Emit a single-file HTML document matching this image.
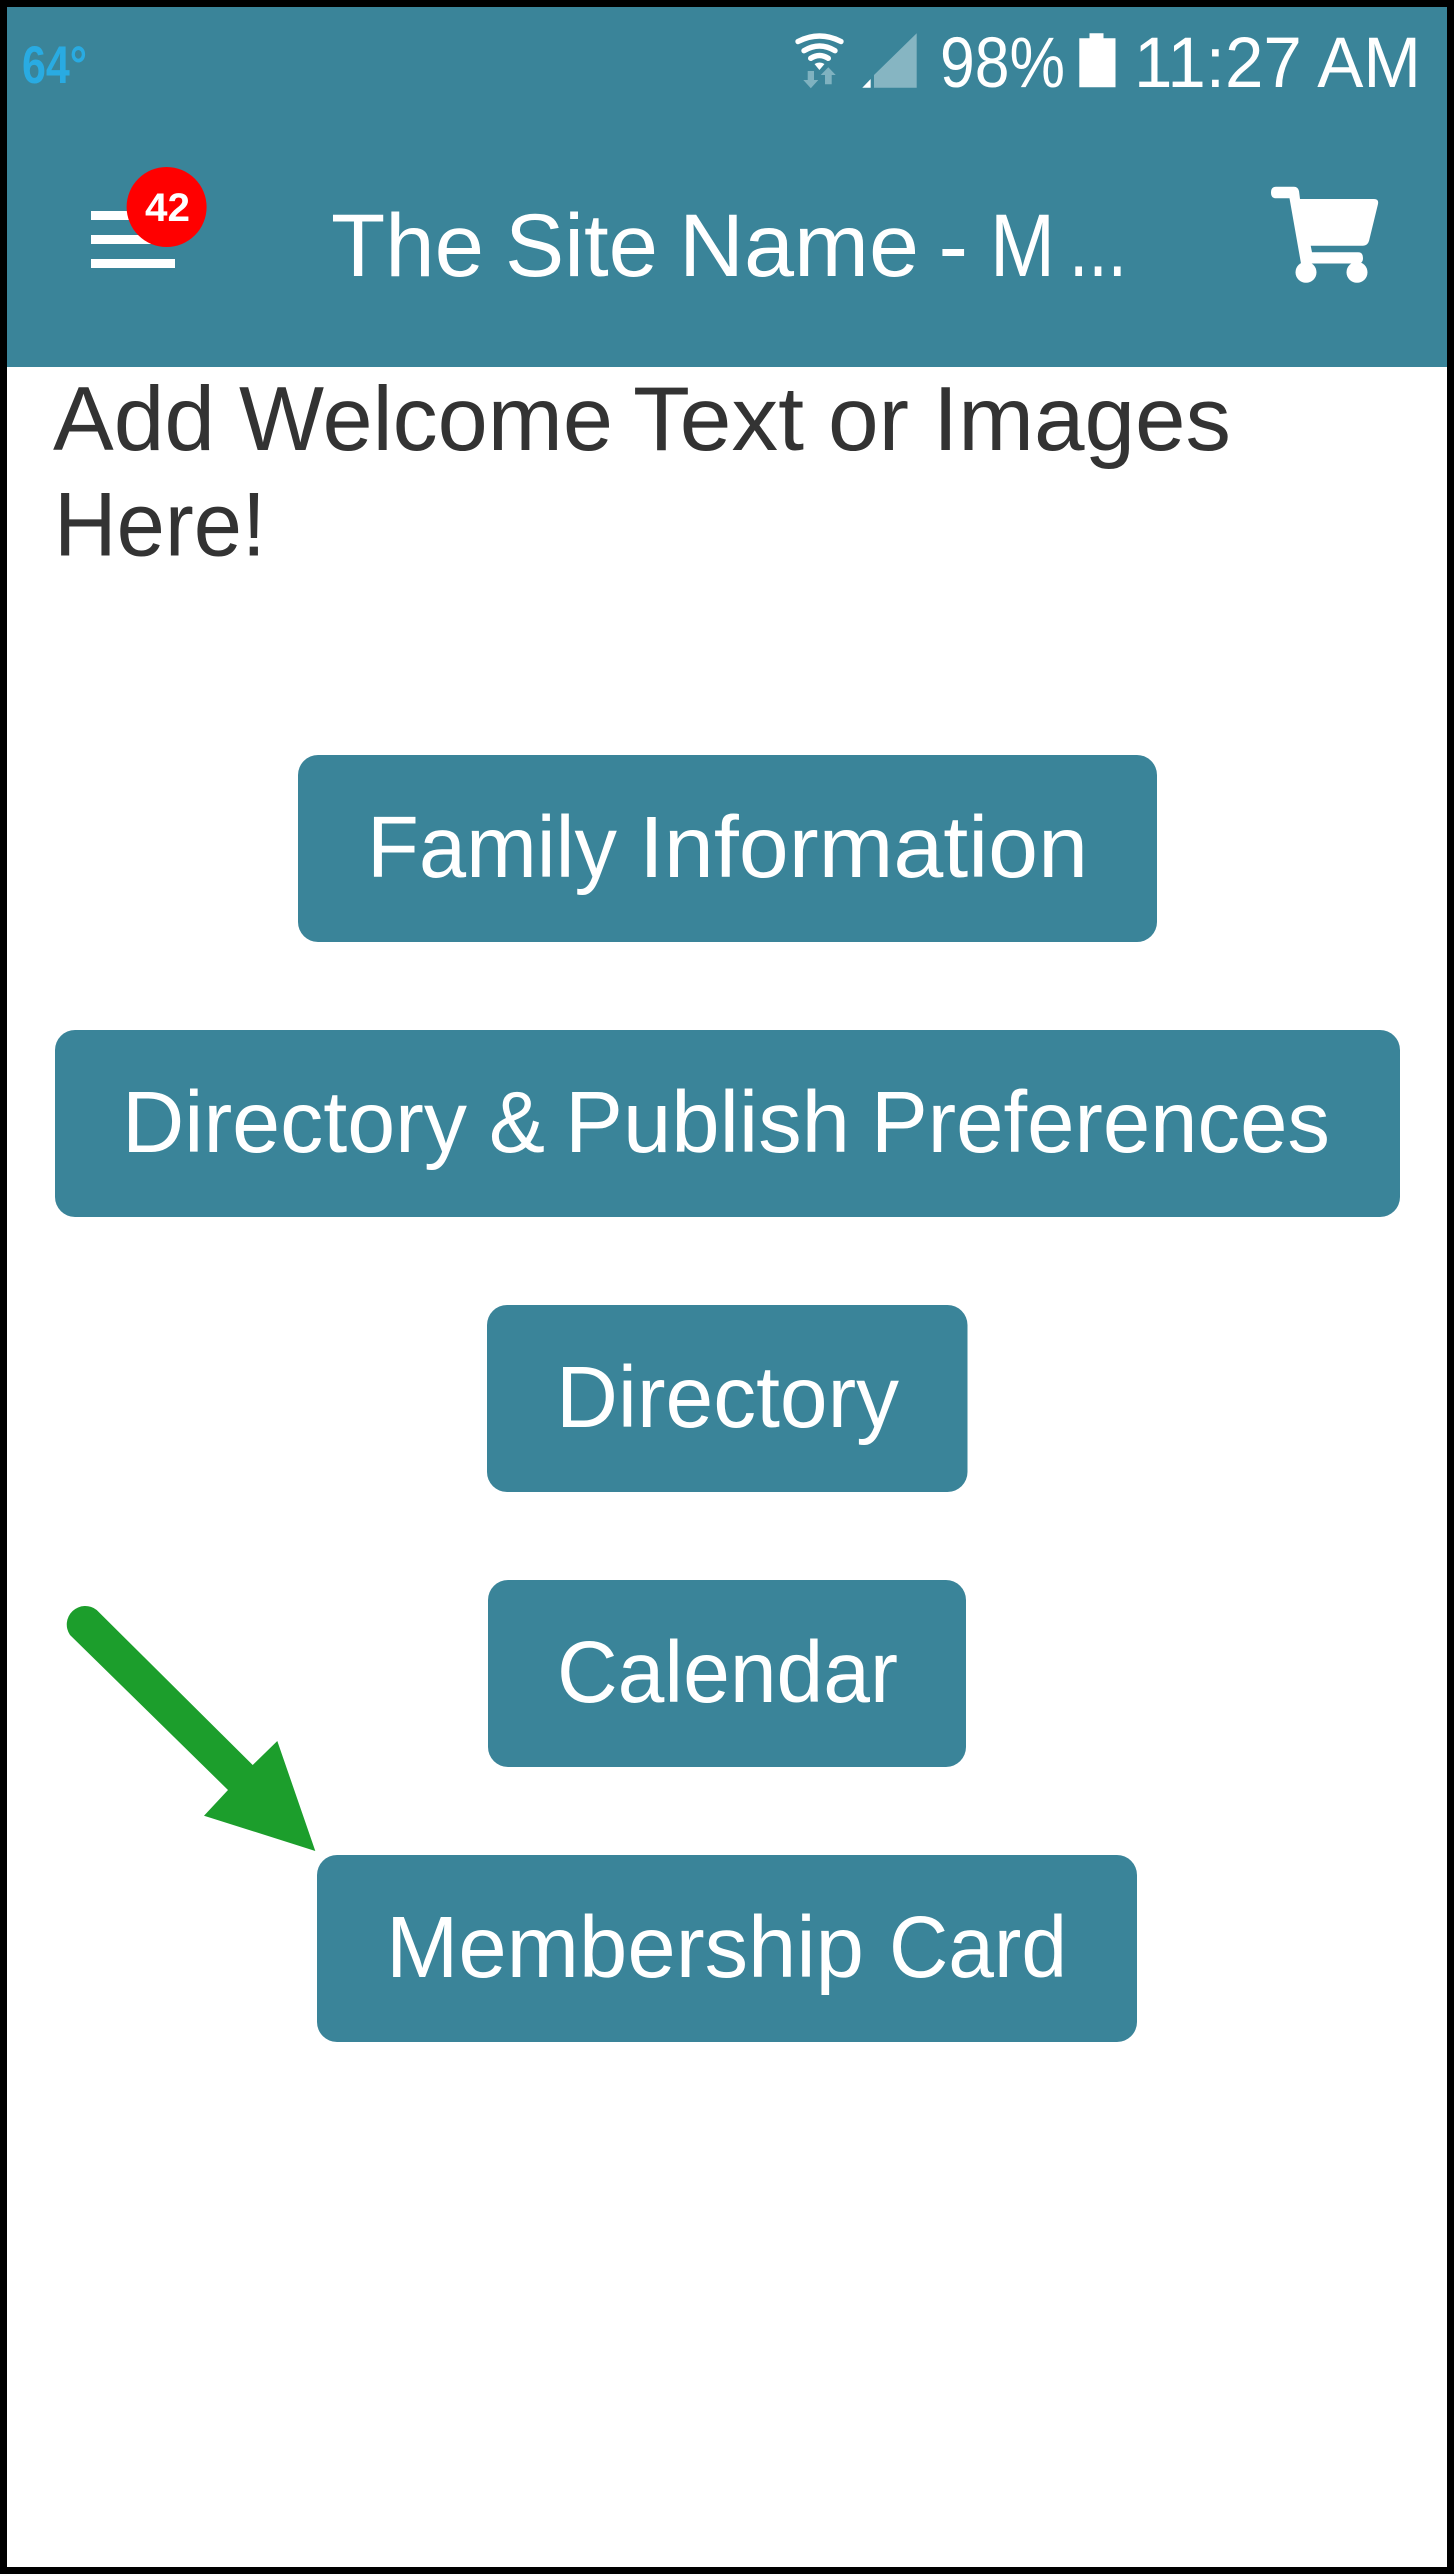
<!DOCTYPE html>
<html lang="en">
<head>
<meta charset="utf-8">
<title>The Site Name</title>
<style>
html,body{margin:0;padding:0;background:#000;width:1454px;height:2574px;overflow:hidden}
svg{display:block}
text{font-family:"Liberation Sans",Arial,sans-serif}
.a{font-size:87px;fill:#fff}
.t{font-size:89px;fill:#fff}
.w{font-size:91px;fill:#333}
</style>
</head>
<body>
<svg xmlns="http://www.w3.org/2000/svg" width="1454" height="2574" viewBox="0 0 1454 2574">
  <rect width="1454" height="2574" fill="#000"/>
  <rect x="7" y="7" width="1440" height="2560" fill="#fff"/>
  <rect x="7" y="7" width="1440" height="360" fill="#3a8499"/>

  <!-- status bar -->
  <text x="22" y="83" font-size="53" font-weight="700" fill="#29abe2" textLength="65" lengthAdjust="spacingAndGlyphs">64°</text>
  <g fill="none" stroke="#fff" stroke-width="5.4" stroke-linecap="round">
    <path d="M798,41.5 Q819.5,30.5 841,41.5"/>
    <path d="M804,50.7 Q819.5,41.3 835,50.7"/>
    <path d="M810.7,58.3 Q819.5,52.7 828.3,58.3"/>
  </g>
  <path d="M814.5,64 Q819.5,61 824.5,64 L819.4,70Z" fill="#fff"/>
  <path d="M807.7,71 H814 V80 H818.3 L810.8,88.3 L803.3,80 H807.7Z" fill="#7fb2c0"/>
  <path d="M828.3,67.3 L835.7,75 H831.7 V84.3 H825 V75 H820.7Z" fill="#7fb2c0"/>
  <path d="M874,87.7 V75 L916.7,33.3 V87.7Z" fill="#86b5c2"/>
  <path d="M862.3,87.7 L870.7,79 V87.7Z" fill="#fff"/>
  <text x="940" y="87" font-size="71" fill="#fff" textLength="125" lengthAdjust="spacingAndGlyphs">98%</text>
  <path d="M1089.5,33.3 H1103.5 V38.3 H1115.5 V87.3 H1079.3 V38.3 H1089.5Z" fill="#fff"/>
  <text x="1134" y="87" font-size="71" fill="#fff" textLength="287" lengthAdjust="spacingAndGlyphs">11:27 AM</text>

  <!-- app bar -->
  <rect x="91" y="211" width="84" height="9" fill="#fff"/>
  <rect x="91" y="235" width="84" height="9" fill="#fff"/>
  <rect x="91" y="259" width="84" height="9" fill="#fff"/>
  <circle cx="166.6" cy="207" r="40" fill="#f00"/>
  <text x="145" y="221" font-size="40" font-weight="700" fill="#fff" textLength="45" lengthAdjust="spacingAndGlyphs">42</text>

  <text class="t" x="331" y="276" textLength="153" lengthAdjust="spacingAndGlyphs">The</text>
  <text class="t" x="505" y="276" textLength="153" lengthAdjust="spacingAndGlyphs">Site</text>
  <text class="t" x="679" y="276" textLength="240" lengthAdjust="spacingAndGlyphs">Name</text>
  <text class="t" x="938.5" y="276" textLength="29.5" lengthAdjust="spacingAndGlyphs">-</text>
  <text class="t" x="990" y="276" textLength="65" lengthAdjust="spacingAndGlyphs">M</text>
  <text class="t" x="1069" y="276" textLength="58" lengthAdjust="spacingAndGlyphs">...</text>

  <path d="M1276,186.7 H1294 Q1298,186.7 1299,191 L1300,199 H1374 Q1379,199 1378,204 L1369,241 Q1367.5,245.7 1363,245.7 H1310.7 L1312,252.3 H1358 Q1363,252.3 1363,258 Q1363,263.5 1358,263.5 H1301 L1289.5,198.3 H1276 Q1271,198.3 1271,192.5 Q1271,186.7 1276,186.7Z" fill="#fff"/>
  <circle cx="1306" cy="272.3" r="10.5" fill="#fff"/>
  <circle cx="1357" cy="272.3" r="10.5" fill="#fff"/>

  <!-- welcome -->
  <text class="w" x="53" y="450" textLength="162" lengthAdjust="spacingAndGlyphs">Add</text>
  <text class="w" x="239" y="450" textLength="374" lengthAdjust="spacingAndGlyphs">Welcome</text>
  <text class="w" x="633" y="450" textLength="171" lengthAdjust="spacingAndGlyphs">Text</text>
  <text class="w" x="828" y="450" textLength="81" lengthAdjust="spacingAndGlyphs">or</text>
  <text class="w" x="933" y="450" textLength="298" lengthAdjust="spacingAndGlyphs">Images</text>
  <text class="w" x="54" y="555.5" textLength="212" lengthAdjust="spacingAndGlyphs">Here!</text>

  <!-- buttons -->
  <rect x="298" y="755" width="859" height="187" rx="20" fill="#3a8499"/>
  <text class="a" x="367" y="877" textLength="250" lengthAdjust="spacingAndGlyphs">Family</text>
  <text class="a" x="639" y="877" textLength="449" lengthAdjust="spacingAndGlyphs">Information</text>

  <rect x="55" y="1030" width="1345" height="187" rx="20" fill="#3a8499"/>
  <text class="a" x="122" y="1152" textLength="345" lengthAdjust="spacingAndGlyphs">Directory</text>
  <text class="a" x="489" y="1152" textLength="56" lengthAdjust="spacingAndGlyphs">&amp;</text>
  <text class="a" x="565" y="1152" textLength="285" lengthAdjust="spacingAndGlyphs">Publish</text>
  <text class="a" x="871" y="1152" textLength="459" lengthAdjust="spacingAndGlyphs">Preferences</text>

  <rect x="487" y="1305" width="480.5" height="187" rx="20" fill="#3a8499"/>
  <text class="a" x="556" y="1427" textLength="343" lengthAdjust="spacingAndGlyphs">Directory</text>

  <rect x="488" y="1580" width="478" height="187" rx="20" fill="#3a8499"/>
  <text class="a" x="557" y="1702" textLength="341" lengthAdjust="spacingAndGlyphs">Calendar</text>

  <rect x="317" y="1855" width="820" height="187" rx="20" fill="#3a8499"/>
  <text class="a" x="386" y="1977" textLength="478" lengthAdjust="spacingAndGlyphs">Membership</text>
  <text class="a" x="889" y="1977" textLength="178" lengthAdjust="spacingAndGlyphs">Card</text>

  <!-- green arrow -->
  <path d="M96.7,1610 L252.7,1765 L277.3,1741 L315.3,1851 L204,1815.7 L228,1790 L70,1635 A18.5,18.5 0 0 1 96.7,1610Z" fill="#1c9e2c"/>
</svg>
</body>
</html>
